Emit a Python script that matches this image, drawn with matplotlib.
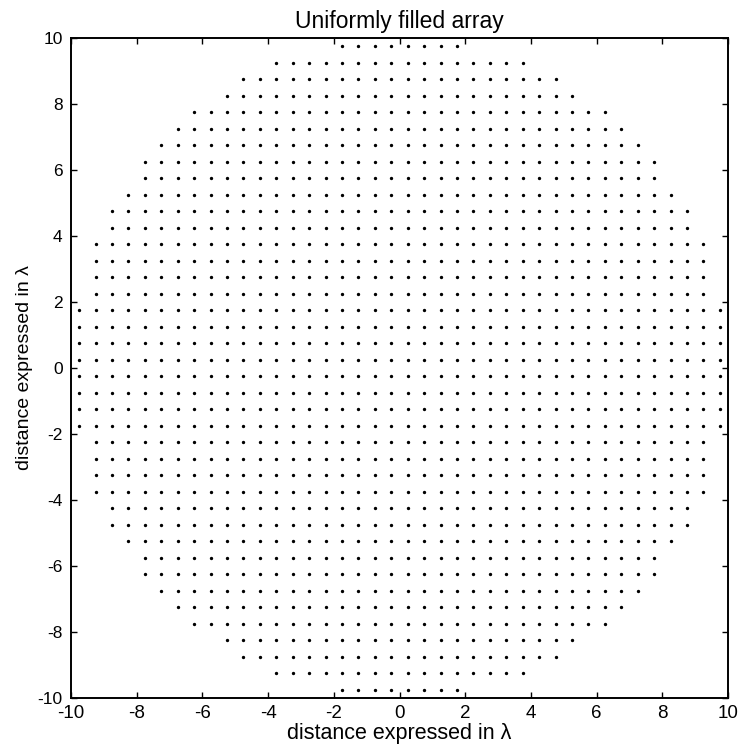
import numpy as np
import matplotlib
matplotlib.use('Agg')
import matplotlib.pyplot as plt

plt.rcParams['font.family'] = ['Liberation Sans', 'DejaVu Sans']
plt.rcParams['axes.unicode_minus'] = False

# element spacing (in lambda) and the number of elements in each half row,
# rows listed from y = 0.25 up to y = 9.75 (array is symmetric)
spacing = 0.5
row_y = [0.25, 0.75, 1.25, 1.75, 2.25, 2.75, 3.25, 3.75, 4.25, 4.75,
         5.25, 5.75, 6.25, 6.75, 7.25, 7.75, 8.25, 8.75, 9.25, 9.75]
half_count = [20, 20, 20, 20, 19, 19, 19, 19, 18, 18,
              17, 16, 16, 15, 14, 13, 11, 10, 8, 4]

xs, ys = [], []
for y, n in zip(row_y, half_count):
    cols = [(j + 0.5) * spacing for j in range(n)]
    row = [-c for c in cols[::-1]] + cols
    for sgn in (1, -1):
        xs += row
        ys += [sgn * y] * len(row)

fig = plt.figure(figsize=(7.41, 7.52), dpi=100)
ax = fig.add_axes([0.0958, 0.0718, 0.8867, 0.8777])
ax.plot(xs, ys, '.', color='black', markersize=2.8)

ax.set_xlim(-10, 10)
ax.set_ylim(-10, 10)
ticks = np.arange(-10, 11, 2)
ax.set_xticks(ticks)
ax.set_yticks(ticks)
ax.tick_params(direction='in', length=4, width=1, top=True, right=True,
               labelsize=12.5, pad=6)
ax.tick_params(axis='x', labelsize=13.5, pad=5)
for s in ax.spines.values():
    s.set_linewidth(1.4)

ax.set_title('Uniformly filled array', fontsize=16.5, pad=7)
ax.set_xlabel('distance expressed in λ', fontsize=15.5, labelpad=1)
ax.set_ylabel('distance expressed in λ', fontsize=14, labelpad=3)

fig.savefig('out.png', dpi=100)
